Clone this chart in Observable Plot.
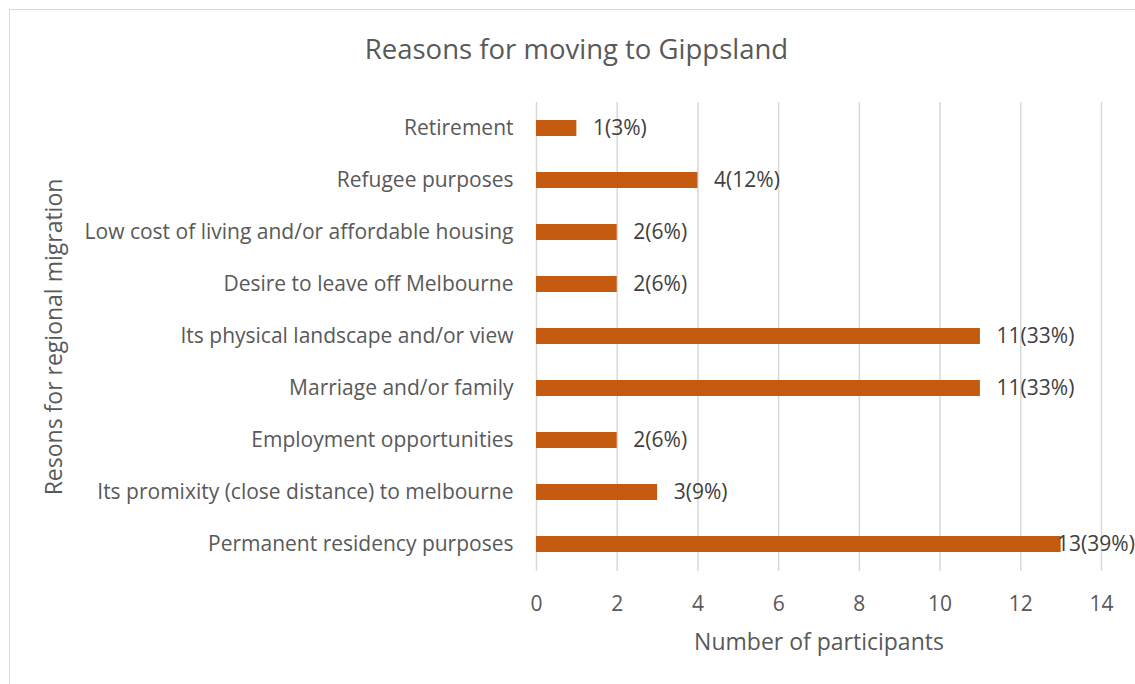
<!DOCTYPE html>
<html>
<head>
<meta charset="utf-8">
<script src="https://cdn.jsdelivr.net/npm/d3@7"></script>
<script src="https://cdn.jsdelivr.net/npm/@observablehq/plot@0.6"></script>
<style>
  html, body { margin: 0; padding: 0; background: #fff; }
  #wrap { position: relative; width: 1135px; height: 684px; overflow: hidden; font-family: "Open Sans", sans-serif; }
  #border { position: absolute; left: 9px; top: 9px; width: 1140px; height: 700px; border: 1.5px solid #d9d9d9; box-sizing: border-box; }
  #title { position: absolute; left: 0; width: 1153px; top: 29px; line-height: 40px; text-align: center; font-size: 27.5px; color: #595959; }
  #chart { position: absolute; left: 0; top: 0; }
</style>
</head>
<body>
<div id="wrap">
  <div id="border"></div>
  <div id="chart"></div>
  <div id="title">Reasons for moving to Gippsland</div>
</div>
<script>
const categories = [
  "Retirement",
  "Refugee purposes",
  "Low cost of living and/or affordable housing",
  "Desire to leave off Melbourne",
  "Its physical landscape and/or view",
  "Marriage and/or family",
  "Employment opportunities",
  "Its promixity (close distance) to melbourne",
  "Permanent residency purposes"
];
const counts = [1, 4, 2, 2, 11, 11, 2, 3, 13];
const labels = ["1(3%)", "4(12%)", "2(6%)", "2(6%)", "11(33%)", "11(33%)", "2(6%)", "3(9%)", "13(39%)"];
const xTicks = [0, 2, 4, 6, 8, 10, 12, 14];

const data = categories.map((c, i) => ({category: c, count: counts[i], label: labels[i], lx: Math.min(counts[i] + 0.4, 12.9)}));

const chart = Plot.plot({
  width: 1135,
  height: 684,
  marginLeft: 536,
  marginRight: 34,
  marginTop: 102,
  marginBottom: 113,
  style: {fontFamily: "Open Sans, sans-serif", fontSize: "21px", color: "#595959", background: "transparent"},
  x: {domain: [0, 14], ticks: xTicks, label: null},
  y: {domain: categories, paddingInner: 0.69, paddingOuter: 0.345, label: null},
  marks: [
    Plot.gridX(xTicks, {stroke: "#d9d9d9", strokeOpacity: 1, strokeWidth: 1.5}),
    Plot.barX(data, {x: "count", y: "category", fill: "#c55a11"}),
    Plot.text(data, {x: "lx", y: "category", text: "label", textAnchor: "start", fill: "#404040", fontSize: 21}),
    Plot.axisX({ticks: xTicks, tickSize: 0, tickPadding: 25, fill: "#595959", fontSize: 21, label: null}),
    Plot.axisY({tickSize: 0, tickPadding: 23, fill: "#595959", fontSize: 21, label: null}),
    Plot.text(["Number of participants"], {frameAnchor: "bottom", lineAnchor: "middle", dy: 71, fontSize: 23, fill: "#595959"}),
    Plot.text(["Resons for regional migration"], {frameAnchor: "left", textAnchor: "middle", lineAnchor: "middle", dx: -482, rotate: -90, fontSize: 23, fill: "#595959"})
  ]
});
document.getElementById("chart").appendChild(chart);
</script>
</body>
</html>
